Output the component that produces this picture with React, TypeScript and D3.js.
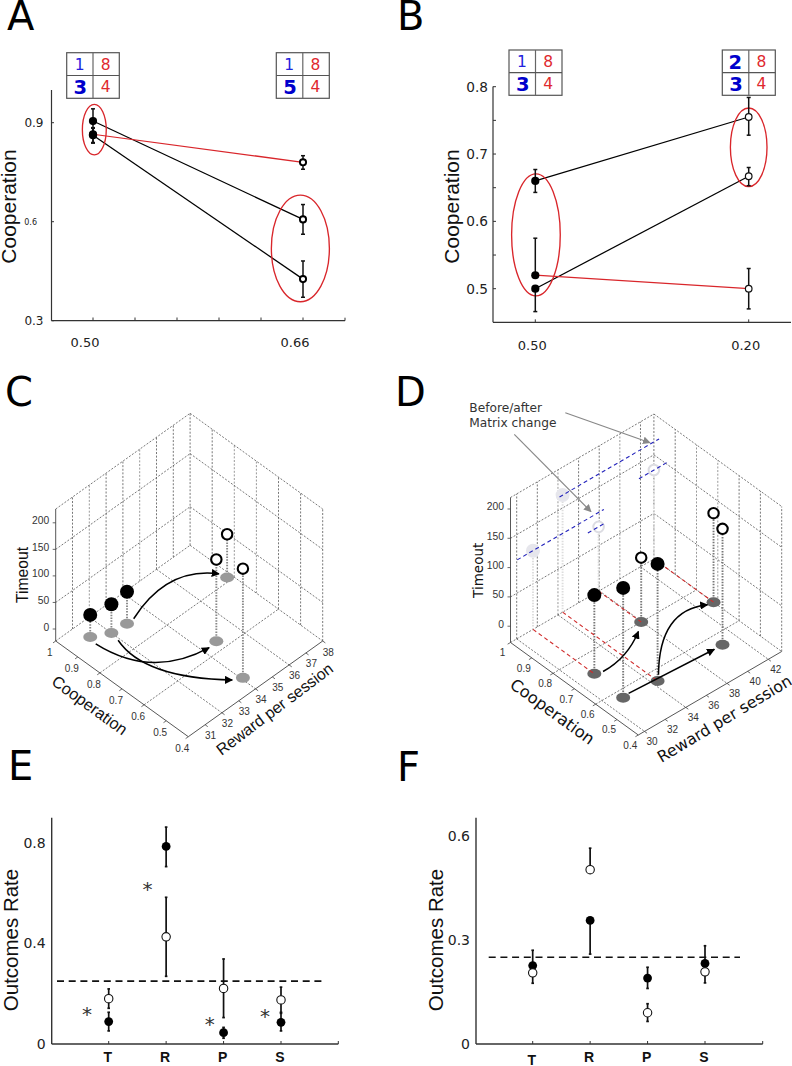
import React from "react";
import * as d3 from "d3";

const SANS = "DejaVu Sans";
const HELV = "Liberation Sans";
const RED = "#d9262b";

// ---------- Panel A ----------
const aXLabels = ["0.50", "0.66"];
const aXLabelValues = [0.5, 0.66];
const aXTicks = [0.5, 0.532, 0.564, 0.596, 0.628, 0.66];
const aYLabels = [0.9, 0.6, 0.3];
const aBefore = [0.905, 0.862, 0.865];
const aBeforeLow = [0.87, 0.838, 0.84];
const aBeforeHigh = [0.942, 0.883, 0.885];
const aAfter = [0.607, 0.426, 0.78];
const aAfterLow = [0.562, 0.371, 0.759];
const aAfterHigh = [0.652, 0.481, 0.8];
const aLineColor = ["#000", "#000", RED];
const aEllipseCx = [0.501, 0.658];
const aEllipseCy = [0.879, 0.519];
const aEllipseRx = [0.0091, 0.0221];
const aEllipseRy = [0.0767, 0.1615];
const aTableTop = ["1", "8"];
const aTableBottomLeft = ["3", "5"];

// ---------- Panel B ----------
const bXLabels = ["0.50", "0.20"];
const bYTicks = [0.8, 0.75, 0.7, 0.65, 0.6, 0.55, 0.5];
const bYLabels = [0.8, 0.7, 0.6, 0.5];
const bBefore = [0.66, 0.5, 0.52];
const bBeforeLow = [0.643, 0.466, 0.52];
const bBeforeHigh = [0.677, 0.5, 0.575];
const bAfter = [0.755, 0.667, 0.5];
const bAfterLow = [0.728, 0.653, 0.47];
const bAfterHigh = [0.784, 0.68, 0.53];
const bLineColor = ["#000", "#000", RED];
const bEllipseCx = [0.003, 1.0];
const bEllipseCy = [0.58, 0.71];
const bEllipseRx = [0.114, 0.0858];
const bEllipseRy = [0.0906, 0.0584];

// ---------- Panels C and D ----------
const coopTicks = [1, 0.9, 0.8, 0.7, 0.6, 0.5, 0.4];
const timeTicks = [0, 50, 100, 150, 200];
const timeGrid = [50, 150];
const coopFloorGrid = [0.8, 0.6];

const cRewardTicks = [31, 32, 33, 34, 35, 36, 37, 38];
const cRewardFloorGrid = [32, 34, 36];
const cFilledCoop = [0.935, 0.9, 0.894];
const cFilledReward = [31.2, 32.0, 32.85];
const cFilledTime = [19, 31.5, 37.8];
const cOpenCoop = [0.638, 0.463, 0.815];
const cOpenReward = [34.8, 34.08, 37.77];
const cOpenTime = [131.5, 183, 59];
const cArrowCoop = [[0.895, 0.984, 0.845], [0.901, 0.663, 0.634], [0.862, 0.684, 0.48]];
const cArrowReward = [[33.26, 36.39, 37.68], [31.08, 31.3, 34.32], [31.9, 31.09, 33.67]];

const dRewardTicks = [30, 32, 34, 36, 38, 40, 42];
const dRewardFloorGrid = [30, 34, 38, 42];
const dFilledCoop = [0.712, 0.566, 0.554];
const dFilledReward = [31.58, 31.36, 34.45];
const dFilledTime = [106.5, 159.4, 171.9];
const dOpenCoop = [0.8, 0.72, 0.548];
const dOpenReward = [37.94, 43.3, 40.62];
const dOpenTime = [82, 124, 170];
const dArrowCoop = [[0.702, 0.699, 0.772], [0.574, 0.807, 0.723], [0.57, 0.56, 0.549]];
const dArrowReward = [[32.22, 34.52, 37.09], [34.95, 39.81, 42.78], [31.97, 35.9, 39.85]];
const dGhostFilled = [0, 2];
const dGhostOpen = [0, 1];
const dBlueStart = [30.05, 34.15, 36.9, 41.85];
const dBlueEnd = [38.45, 43.8, 38.6, 44.6];
const dBlueTime = [106.5, 171.9, 82, 124];
const dRedGhostReward = [31.58, 34.45, 37.94, 43.3];
const dRedEndCoop = [0.712, 0.554, 0.8, 0.72];
const pointerLines = [
  [565.3, 412.7, 650, 442.7],
  [514.3, 434.3, 591, 511.7],
];

// ---------- Panels E and F ----------
const outcomes = ["T", "R", "P", "S"];
const eYLabels = [0.8, 0.4, 0];
const eFilled = [0.089, 0.785, 0.045, 0.086];
const eFilledLow = [0.052, 0.705, 0.023, 0.052];
const eFilledHigh = [0.126, 0.862, 0.066, 0.126];
const eOpen = [0.18, 0.426, 0.221, 0.175];
const eOpenLow = [0.142, 0.269, 0.105, 0.122];
const eOpenHigh = [0.219, 0.583, 0.338, 0.226];
const eStarIndex = [-0.378, 0.674, 1.76, 2.72];
const eStarValue = [0.132, 0.628, 0.0925, 0.127];
const fYLabels = [0.6, 0.3, 0];
const fFilled = [0.226, 0.356, 0.19, 0.232];
const fFilledLow = [0.226, 0.259, 0.16, 0.232];
const fFilledHigh = [0.27, 0.356, 0.221, 0.283];
const fOpen = [0.205, 0.502, 0.09, 0.208];
const fOpenLow = [0.175, 0.502, 0.065, 0.176];
const fOpenHigh = [0.205, 0.564, 0.116, 0.208];
const chanceLevel = 0.25;

function Letter({ x, y, t }: any) {
  return <text x={x} y={y} fontFamily={SANS} fontSize={40} fill="#000">{t}</text>;
}

function PayoffTable({ x, y, w, h, tl, bl, tlBold }: any) {
  const mx = x + w / 2;
  const my = y + h / 2;
  const cell = (cx: number, cy: number, t: string, bold: boolean, color: string) => (
    <text x={cx} y={cy + (bold ? 7 : 5.7)} textAnchor="middle" fontFamily={SANS}
      fontSize={bold ? 19.5 : 15.5} fontWeight={bold ? "bold" : "normal"} fill={color}>{t}</text>
  );
  return (
    <g>
      <rect x={x} y={y} width={w} height={h} fill="#fff" stroke="#555" strokeWidth={1.2} />
      <line x1={mx} x2={mx} y1={y} y2={y + h} stroke="#666" strokeWidth={1.2} />
      <line x1={x} x2={x + w} y1={my} y2={my} stroke="#555" strokeWidth={1.2} />
      {cell(x + w * 0.245, my - h * 0.245, tl, !!tlBold, tlBold ? "#0000cc" : "#2222dd")}
      {cell(x + w * 0.74, my - h * 0.245, "8", false, "#e0282e")}
      {cell(x + w * 0.26, my + h * 0.245, bl, true, "#0000cc")}
      {cell(x + w * 0.74, my + h * 0.245, "4", false, "#e0282e")}
    </g>
  );
}

function ErrorBar({ x, lo, hi, cap = 2, w = 1.5 }: any) {
  return (
    <g stroke="#111" strokeWidth={w}>
      <line x1={x} x2={x} y1={lo} y2={hi} />
      <line x1={x - cap} x2={x + cap} y1={lo} y2={lo} />
      <line x1={x - cap} x2={x + cap} y1={hi} y2={hi} />
    </g>
  );
}

function PanelA() {
  const x = d3.scaleLinear().domain([0.5, 0.66]).range([93, 303]);
  const y = d3.scaleLinear().domain([0.3, 0.9]).range([320.7, 122.7]);
  const w0 = x(0.5);
  const w1 = x(0.66);
  return (
    <g>
      <Letter x={7} y={30} t="A" />
      <line x1={51.5} x2={51.5} y1={90} y2={320.7} stroke="#333" strokeWidth={1.2} />
      <line x1={51.5} x2={345} y1={320.7} y2={320.7} stroke="#333" strokeWidth={1.2} />
      <line x1={345} x2={345} y1={320.7} y2={317.7} stroke="#333" />
      {aXTicks.map((t) => <line key={t} x1={x(t)} x2={x(t)} y1={320.7} y2={317.5} stroke="#333" />)}
      {aYLabels.map((t) => (
        <g key={t}>
          <line x1={51.5} x2={54} y1={y(t)} y2={y(t)} stroke="#333" />
          <text x={t === 0.6 ? 37 : 43.5} y={y(t) + (t === 0.6 ? 3 : 4.5)} textAnchor="end" fontFamily={SANS}
            fontSize={t === 0.6 ? 8 : 12} fill="#222">{t.toFixed(1)}</text>
        </g>
      ))}
      {aXLabels.map((l, i) => (
        <text key={l} x={x(aXLabelValues[i]) - 8} y={347} textAnchor="middle" fontFamily={SANS} fontSize={13} fill="#222">{l}</text>
      ))}
      <text transform="translate(16,206.5) rotate(-90)" textAnchor="middle" fontFamily={HELV} fontSize={21} fill="#111">Cooperation</text>
      {aBefore.map((v, i) => (
        <line key={i} x1={w0} y1={y(v)} x2={w1} y2={y(aAfter[i])} stroke={aLineColor[i]} strokeWidth={1.25} />
      ))}
      {aEllipseCx.map((cx, i) => (
        <ellipse key={i} cx={x(cx)} cy={y(aEllipseCy[i])} rx={x(aEllipseRx[i]) - x(0)} ry={y(0) - y(aEllipseRy[i])}
          fill="none" stroke={RED} strokeWidth={1.35} />
      ))}
      {aBefore.map((_, i) => <ErrorBar key={i} x={w0} lo={y(aBeforeLow[i])} hi={y(aBeforeHigh[i])} />)}
      {aAfter.map((_, i) => <ErrorBar key={i} x={w1} lo={y(aAfterLow[i])} hi={y(aAfterHigh[i])} />)}
      {aBefore.map((v, i) => <circle key={i} cx={w0} cy={y(v)} r={4.1} fill="#000" />)}
      {aAfter.map((v, i) => <circle key={i} cx={w1} cy={y(v)} r={3.1} fill="#fff" stroke="#000" strokeWidth={1.9} />)}
      <PayoffTable x={66.7} y={52.7} w={52.6} h={45.6} tl={aTableTop[0]} bl={aTableBottomLeft[0]} />
      <PayoffTable x={276.3} y={52.7} w={53} h={45.6} tl={aTableTop[0]} bl={aTableBottomLeft[1]} />
    </g>
  );
}

function PanelB() {
  const x = d3.scaleLinear().domain([0, 1]).range([535.3, 748.7]);
  const y = d3.scaleLinear().domain([0.5, 0.8]).range([288.7, 86.7]);
  const bottom = y(0.45);
  return (
    <g>
      <Letter x={397} y={30} t="B" />
      <line x1={493} x2={493} y1={86.5} y2={bottom} stroke="#333" strokeWidth={1.2} />
      <line x1={493} x2={791} y1={bottom} y2={bottom} stroke="#333" strokeWidth={1.2} />
      {bYTicks.map((t) => <line key={t} x1={493} x2={496} y1={y(t)} y2={y(t)} stroke="#333" />)}
      {[0, 1].map((t) => <line key={t} x1={x(t)} x2={x(t)} y1={bottom} y2={bottom - 3} stroke="#333" />)}
      {bYLabels.map((t) => (
        <text key={t} x={488} y={y(t) + 5} textAnchor="end" fontFamily={SANS} fontSize={13.7} fill="#222">{t.toFixed(1)}</text>
      ))}
      {bXLabels.map((l, i) => (
        <text key={l} x={x(i) - 3} y={350.3} textAnchor="middle" fontFamily={SANS} fontSize={13} fill="#222">{l}</text>
      ))}
      <text transform="translate(458.7,206.5) rotate(-90)" textAnchor="middle" fontFamily={HELV} fontSize={21} fill="#111">Cooperation</text>
      {bBefore.map((v, i) => (
        <line key={i} x1={x(0)} y1={y(v)} x2={x(1)} y2={y(bAfter[i])} stroke={bLineColor[i]} strokeWidth={1.25} />
      ))}
      {bEllipseCx.map((cx, i) => (
        <ellipse key={i} cx={x(cx)} cy={y(bEllipseCy[i])} rx={x(bEllipseRx[i]) - x(0)} ry={y(0) - y(bEllipseRy[i])}
          fill="none" stroke={RED} strokeWidth={1.35} />
      ))}
      {bBefore.map((_, i) => <ErrorBar key={i} x={x(0)} lo={y(bBeforeLow[i])} hi={y(bBeforeHigh[i])} />)}
      {bAfter.map((_, i) => <ErrorBar key={i} x={x(1)} lo={y(bAfterLow[i])} hi={y(bAfterHigh[i])} />)}
      {bBefore.map((v, i) => <circle key={i} cx={x(0)} cy={y(v)} r={4.1} fill="#000" />)}
      {bAfter.map((v, i) => <circle key={i} cx={x(1)} cy={y(v)} r={3.3} fill="#fff" stroke="#111" strokeWidth={1.2} />)}
      <PayoffTable x={509} y={50} w={53} h={45.3} tl="1" bl="3" />
      <PayoffTable x={722.3} y={50} w={53} h={45.3} tl="2" bl="3" tlBold />
    </g>
  );
}

function makeProjection(cfg: any) {
  const { left: L, front: F, right: R, rewardDomain, timeDomain, height } = cfg;
  const backX = L[0] + R[0] - F[0];
  const backY = L[1] + R[1] - F[1];
  const u = d3.scaleLinear().domain([1, 0.4]).range([0, 1]);
  const v = d3.scaleLinear().domain(rewardDomain).range([0, 1]);
  const h = d3.scaleLinear().domain(timeDomain).range([0, height]);
  return (c: number, r: number, t: number = timeDomain[0]): [number, number] => [
    L[0] + u(c) * (F[0] - L[0]) + v(r) * (backX - L[0]),
    L[1] + u(c) * (F[1] - L[1]) + v(r) * (backY - L[1]) - h(t),
  ];
}

function Seg({ a, b, stroke = "#555", dash = "2 1.6", w = 0.8, op = 1 }: any) {
  return <line x1={a[0]} y1={a[1]} x2={b[0]} y2={b[1]} stroke={stroke} strokeDasharray={dash} strokeWidth={w} opacity={op} />;
}

function Arrow({ s, c, e, id }: any) {
  const path = d3.path();
  path.moveTo(s[0], s[1]);
  path.quadraticCurveTo(c[0], c[1], e[0], e[1]);
  return <path d={path.toString()} fill="none" stroke="#000" strokeWidth={1.5} markerEnd={`url(#${id})`} />;
}

function Cube({ cfg }: any) {
  const p = makeProjection(cfg);
  const [rMin, rMax] = cfg.rewardDomain;
  const [tMin, tMax] = cfg.timeDomain;
  const rRange = rMax - rMin;
  const spotFill = cfg.spotFill;
  return (
    <g>
      {/* walls */}
      {cfg.rewardTicks.filter((r: number) => r < rMax - 0.1 && r > rMin).map((r: number, i: number) => (
        <Seg key={r} a={p(1, r)} b={p(1, r, tMax)} stroke={i % 3 === cfg.lightPhase ? "#999" : "#555"} w={i % 3 === cfg.lightPhase ? 1 : 0.8} />
      ))}
      {coopTicks.slice(1, -1).map((c, i) => (
        <Seg key={c} a={p(c, rMax)} b={p(c, rMax, tMax)} stroke={i === 1 || i === 2 ? "#999" : "#555"} w={i === 1 || i === 2 ? 1 : 0.8} />
      ))}
      <Seg a={p(1, rMax)} b={p(1, rMax, tMax)} stroke="#777" w={1} />
      <Seg a={p(0.4, rMax)} b={p(0.4, rMax, tMax)} />
      <Seg a={p(1, rMin, tMax)} b={p(1, rMax, tMax)} />
      <Seg a={p(1, rMax, tMax)} b={p(0.4, rMax, tMax)} />
      {timeGrid.map((t) => (
        <g key={t}>
          <Seg a={p(1, rMin, t)} b={p(1, rMax, t)} />
          <Seg a={p(1, rMax, t)} b={p(0.4, rMax, t)} />
        </g>
      ))}
      {/* floor */}
      <Seg a={p(1, rMin)} b={p(1, rMax)} />
      <Seg a={p(1, rMax)} b={p(0.4, rMax)} />
      {coopFloorGrid.map((c) => <Seg key={c} a={p(c, rMin)} b={p(c, rMax)} />)}
      {cfg.rewardFloorGrid.map((r: number) => <Seg key={r} a={p(1, r)} b={p(0.4, r)} />)}
      {/* axes */}
      <Seg a={p(1, rMin)} b={p(1, rMin, tMax)} stroke="#444" dash="none" w={0.9} />
      <Seg a={p(1, rMin)} b={p(0.4, rMin)} stroke="#444" dash="none" w={0.9} />
      <Seg a={p(0.4, rMin)} b={p(0.4, rMax)} stroke="#444" dash="none" w={0.9} />
      {coopTicks.map((c) => (
        <Seg key={c} a={p(c, rMin)} b={p(c, rMin - rRange * 0.02)} stroke="#444" dash="none" w={0.8} />
      ))}
      {cfg.rewardTicks.map((r: number) => (
        <Seg key={r} a={p(0.4, r)} b={p(0.388, r)} stroke="#444" dash="none" w={0.8} />
      ))}
      {timeTicks.map((t) => {
        const a = p(1, rMin, t);
        return <Seg key={t} a={a} b={[a[0] - 3, a[1]]} stroke="#444" dash="none" w={0.8} />;
      })}
      {/* tick labels */}
      {coopTicks.map((c) => {
        const a = p(c, rMin);
        return <text key={c} x={a[0] + cfg.coopLabelOffset[0]} y={a[1] + cfg.coopLabelOffset[1] + 3.5} textAnchor="middle"
          fontFamily={HELV} fontSize={10} fill="#333">{c}</text>;
      })}
      {cfg.rewardTicks.map((r: number) => {
        const a = p(0.4, r);
        return <text key={r} x={a[0] + cfg.rewardLabelOffset[0]} y={a[1] + cfg.rewardLabelOffset[1] + 3.5} textAnchor="middle"
          fontFamily={HELV} fontSize={10} fill="#333">{r}</text>;
      })}
      {timeTicks.map((t) => {
        const a = p(1, rMin, t);
        return <text key={t} x={a[0] - 6.5} y={a[1] + 1.5} textAnchor="end" fontFamily={HELV} fontSize={10.3} fill="#333">{t}</text>;
      })}
      {/* axis titles */}
      {cfg.titles.map((tt: any) => (
        <text key={tt.t} transform={`translate(${tt.x},${tt.y}) rotate(${tt.a})`} textAnchor="middle" dominantBaseline="central"
          fontFamily={cfg.titleFont} fontSize={tt.s} fill="#111">{tt.t}</text>
      ))}
      {cfg.under && cfg.under(p)}
      {/* drop lines */}
      {cfg.filledCoop.map((c: number, i: number) => (
        <Seg key={i} a={p(c, cfg.filledReward[i])} b={p(c, cfg.filledReward[i], cfg.filledTime[i])} stroke={cfg.dropColor} dash="1.5 1.3" w={1.9} />
      ))}
      {cfg.openCoop.map((c: number, i: number) => (
        <Seg key={i} a={p(c, cfg.openReward[i])} b={p(c, cfg.openReward[i], cfg.openTime[i])} stroke={cfg.dropColor} dash="1.5 1.3" w={1.9} />
      ))}
      {/* floor spots */}
      {cfg.filledCoop.map((c: number, i: number) => {
        const a = p(c, cfg.filledReward[i]);
        return <ellipse key={i} cx={a[0]} cy={a[1]} rx={7} ry={5} fill={spotFill} />;
      })}
      {cfg.openCoop.map((c: number, i: number) => {
        const a = p(c, cfg.openReward[i]);
        return <ellipse key={i} cx={a[0]} cy={a[1]} rx={7} ry={5} fill={spotFill} />;
      })}
      {cfg.over && cfg.over(p)}
      {/* arrows */}
      {cfg.arrowCoop.map((cs: number[], i: number) => (
        <Arrow key={i} id={cfg.markerId} s={p(cs[0], cfg.arrowReward[i][0])} c={p(cs[1], cfg.arrowReward[i][1])} e={p(cs[2], cfg.arrowReward[i][2])} />
      ))}
      {/* markers */}
      {cfg.filledCoop.map((c: number, i: number) => {
        const a = p(c, cfg.filledReward[i], cfg.filledTime[i]);
        return <circle key={i} cx={a[0]} cy={a[1]} r={7} fill="#000" />;
      })}
      {cfg.openCoop.map((c: number, i: number) => {
        const a = p(c, cfg.openReward[i], cfg.openTime[i]);
        return <circle key={i} cx={a[0]} cy={a[1]} r={5.2} fill="#fff" stroke="#000" strokeWidth={2.1} />;
      })}
    </g>
  );
}

const cConfig = {
  left: [55.7, 641], front: [188.3, 736.7], right: [322.7, 641],
  rewardDomain: [30, 38], timeDomain: [-22.6, 226], height: 132,
  rewardTicks: cRewardTicks, rewardFloorGrid: cRewardFloorGrid, lightPhase: 1,
  coopLabelOffset: [-6, 11.7], rewardLabelOffset: [5.5, 11],
  titleFont: HELV,
  titles: [
    { t: "Timeout", x: 22, y: 575, a: -90, s: 15.7 },
    { t: "Cooperation", x: 90, y: 705, a: 36, s: 16.3 },
    { t: "Reward per session", x: 274.7, y: 709, a: -37, s: 16 },
  ],
  filledCoop: cFilledCoop, filledReward: cFilledReward, filledTime: cFilledTime,
  openCoop: cOpenCoop, openReward: cOpenReward, openTime: cOpenTime,
  arrowCoop: cArrowCoop, arrowReward: cArrowReward,
  dropColor: "#888", spotFill: "#999", markerId: "ahead",
};

const dConfig = {
  left: [510.5, 642.5], front: [638.3, 735], right: [781.7, 651.5],
  rewardDomain: [29.4, 43.3], timeDomain: [-27.8, 219.6], height: 145,
  rewardTicks: dRewardTicks, rewardFloorGrid: dRewardFloorGrid, lightPhase: 2,
  coopLabelOffset: [-8, 10.3], rewardLabelOffset: [7.5, 10.3],
  titleFont: SANS,
  titles: [
    { t: "Timeout", x: 477.7, y: 570.3, a: -90, s: 13.5 },
    { t: "Cooperation", x: 552.3, y: 711.7, a: 36, s: 16.3 },
    { t: "Reward per session", x: 724.5, y: 718.8, a: -31, s: 15.8 },
  ],
  filledCoop: dFilledCoop, filledReward: dFilledReward, filledTime: dFilledTime,
  openCoop: dOpenCoop, openReward: dOpenReward, openTime: dOpenTime,
  arrowCoop: dArrowCoop, arrowReward: dArrowReward,
  dropColor: "#777", spotFill: "#666", markerId: "ahead",
  under: (p: any) => (
    <g>
      {dGhostFilled.map((k) => (
        <Seg key={`f${k}`} a={p(1, dFilledReward[k])} b={p(1, dFilledReward[k], dFilledTime[k])} stroke="#ddd" dash="1.5 1.3" w={1.9} />
      ))}
      {dGhostOpen.map((k) => (
        <Seg key={`o${k}`} a={p(1, dOpenReward[k])} b={p(1, dOpenReward[k], dOpenTime[k])} stroke="#ddd" dash="1.5 1.3" w={1.9} />
      ))}
      {dGhostFilled.map((k) => {
        const a = p(1, dFilledReward[k], dFilledTime[k]);
        return <circle key={k} cx={a[0]} cy={a[1]} r={7} fill="#e6e6ec" />;
      })}
      {dGhostOpen.map((k) => {
        const a = p(1, dOpenReward[k], dOpenTime[k]);
        return <circle key={k} cx={a[0]} cy={a[1]} r={5.3} fill="#fff" stroke="#dcdce2" strokeWidth={2} />;
      })}
      {dBlueStart.map((r, i) => (
        <Seg key={i} a={p(1, r, dBlueTime[i])} b={p(1, dBlueEnd[i], dBlueTime[i])} stroke="#2222bb" dash="4 3" w={1.1} />
      ))}
    </g>
  ),
  over: (p: any) => (
    <g>
      {dRedGhostReward.map((r, i) => (
        <Seg key={i} a={p(1, r)} b={p(dRedEndCoop[i], r)} stroke="#d02c2c" dash="4 3" w={1.1} />
      ))}
      {pointerLines.map((l, i) => (
        <line key={i} x1={l[0]} y1={l[1]} x2={l[2]} y2={l[3]} stroke="#888" strokeWidth={1.2} markerEnd="url(#grayhead)" />
      ))}
    </g>
  ),
};

function Outcome({ cfg }: any) {
  const x = d3.scaleLinear().domain([0, 3]).range(cfg.xRange);
  const y = d3.scaleLinear().domain([0, cfg.yMax]).range([1044, cfg.yTop]);
  return (
    <g>
      <line x1={cfg.axisX} x2={cfg.axisX} y1={817.7} y2={1044} stroke="#333" strokeWidth={1.4} />
      <line x1={cfg.axisX} x2={cfg.axisEnd} y1={1044} y2={1044} stroke="#333" strokeWidth={1.4} />
      <line x1={cfg.axisEnd} x2={cfg.axisEnd} y1={1044} y2={1041} stroke="#333" />
      {outcomes.map((o, i) => (
        <g key={o}>
          <line x1={x(i)} x2={x(i)} y1={1044} y2={1041} stroke="#333" />
          <text x={x(i) - 1} y={o === "T" ? cfg.tBaseline : 1062} textAnchor="middle" fontFamily={HELV} fontWeight="bold" fontSize={14} fill="#111">{o}</text>
        </g>
      ))}
      {cfg.yLabels.map((t: number) => (
        <text key={t} x={cfg.axisX - 6} y={y(t) + 5} textAnchor="end" fontFamily={SANS} fontSize={14} fill="#222">{t === 0 ? "0" : t.toFixed(1)}</text>
      ))}
      <text transform={`translate(${cfg.titleX},940) rotate(-90)`} textAnchor="middle" fontFamily={HELV} fontSize={20.5} fill="#111">Outcomes Rate</text>
      <line x1={cfg.dashFrom} x2={cfg.dashTo} y1={y(chanceLevel)} y2={y(chanceLevel)} stroke="#111" strokeWidth={1.6} strokeDasharray="7 4.7" />
      {outcomes.map((_, i) => <ErrorBar key={i} x={x(i)} lo={y(cfg.filledLow[i])} hi={y(cfg.filledHigh[i])} cap={1.3} w={1.7} />)}
      {outcomes.map((_, i) => <ErrorBar key={i} x={x(i)} lo={y(cfg.openLow[i])} hi={y(cfg.openHigh[i])} cap={1.3} w={1.7} />)}
      {outcomes.map((_, i) => <circle key={i} cx={x(i)} cy={y(cfg.filled[i])} r={4.4} fill="#000" />)}
      {outcomes.map((_, i) => <circle key={i} cx={x(i)} cy={y(cfg.open[i])} r={4.2} fill="#fff" stroke="#111" strokeWidth={1.1} />)}
      {(cfg.starIndex || []).map((s: number, i: number) => (
        <text key={i} x={x(s)} y={y(cfg.starValue[i]) + 10.5} textAnchor="middle" fontFamily={SANS} fontSize={20} fill="#333">*</text>
      ))}
    </g>
  );
}

const eConfig = {
  xRange: [108.7, 281], yMax: 0.8, yTop: 842.7, axisX: 51.7, axisEnd: 338.3, tBaseline: 1062,
  yLabels: eYLabels, titleX: 18.3, dashFrom: 57, dashTo: 322.7,
  filled: eFilled, filledLow: eFilledLow, filledHigh: eFilledHigh,
  open: eOpen, openLow: eOpenLow, openHigh: eOpenHigh,
  starIndex: eStarIndex, starValue: eStarValue,
};
const fConfig = {
  xRange: [532.7, 705], yMax: 0.6, yTop: 835.7, axisX: 476, axisEnd: 762.7, tBaseline: 1065,
  yLabels: fYLabels, titleX: 443.3, dashFrom: 488.7, dashTo: 740,
  filled: fFilled, filledLow: fFilledLow, filledHigh: fFilledHigh,
  open: fOpen, openLow: fOpenLow, openHigh: fOpenHigh,
};

export default function App() {
  return (
    <svg width={792} height={1066} viewBox="0 0 792 1066" style={{ position: "absolute", left: 0, top: 0, background: "#fff" }}>
      <defs>
        <marker id="ahead" viewBox="0 0 10 10" refX="9" refY="5" markerWidth="5.4" markerHeight="5.4" orient="auto">
          <path d="M0,0 L10,5 L0,10 Z" fill="#000" />
        </marker>
        <marker id="grayhead" viewBox="0 0 10 10" refX="9" refY="5" markerWidth="6.5" markerHeight="6.5" orient="auto">
          <path d="M0,0 L10,5 L0,10 Z" fill="#888" />
        </marker>
      </defs>
      <PanelA />
      <PanelB />
      <Letter x={5} y={405.5} t="C" />
      <Cube cfg={cConfig} />
      <Letter x={395} y={406} t="D" />
      <text x={469.3} y={411.7} fontFamily={SANS} fontSize={12.2} fill="#333">Before/after</text>
      <text x={469.3} y={427.3} fontFamily={SANS} fontSize={12.2} fill="#333">Matrix change</text>
      <Cube cfg={dConfig} />
      <Letter x={8} y={780} t="E" />
      <Outcome cfg={eConfig} />
      <Letter x={397} y={780.5} t="F" />
      <Outcome cfg={fConfig} />
    </svg>
  );
}
